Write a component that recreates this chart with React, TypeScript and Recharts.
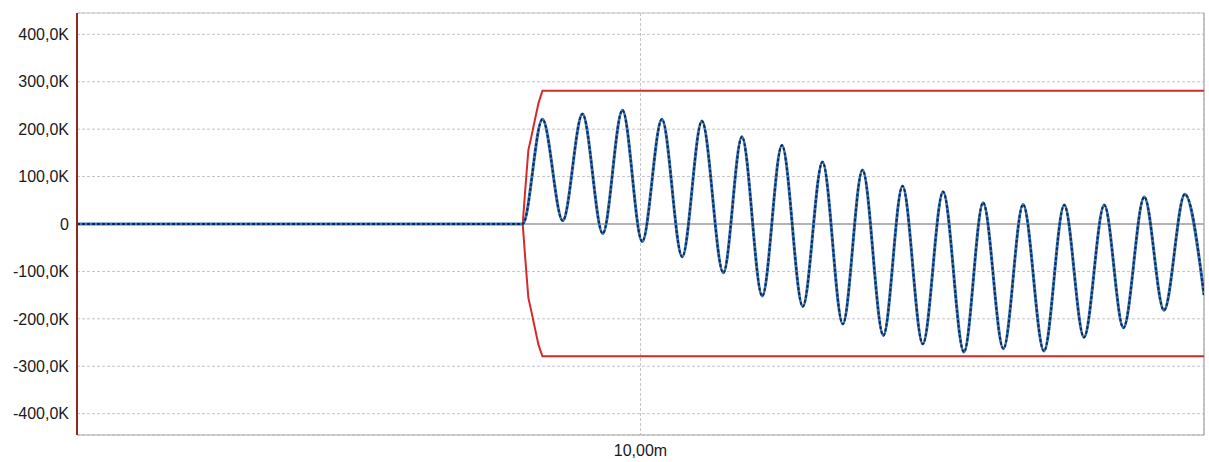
import { CartesianGrid, Line, LineChart, ReferenceLine, XAxis, YAxis } from 'recharts';

// time in ms, values in K (thousands)
const waveTime = [
  0, 7.91, 8.26, 8.62, 8.97, 9.33, 9.68, 10.03, 10.38, 10.74, 11.09, 11.47, 11.8, 12.16,
  12.51, 12.88, 13.23, 13.59, 13.94, 14.31, 14.65, 15.01, 15.37, 15.74, 16.08, 16.44,
  16.79, 17.16, 17.52, 17.87, 18.23, 18.57, 18.94, 19.29, 19.66, 20,
];
const waveValue = [
  0, 0, 221, 7, 232, -20, 240, -37, 221, -69, 217, -103, 184, -152, 166, -174, 131, -211,
  114, -235, 80, -253, 68, -270, 45, -263, 41, -268, 40, -239, 40, -219, 57, -182, 63, -150,
];

const envTime = [0, 7.91, 7.95, 8.01, 8.07, 8.12, 8.19, 8.26, 20];
const envUpper = [0, 0, 65, 156, 188, 216, 255, 281, 281];
const envLower = [0, 0, -65, -156, -188, -216, -255, -279, -279];

const xTicks = [10];
const yTicks = [-400, -300, -200, -100, 0, 100, 200, 300, 400];

const waveData = waveTime.map((t, i) => ({ t, v: waveValue[i] * 1000 }));
const upperData = envTime.map((t, i) => ({ t, v: envUpper[i] * 1000 }));
const lowerData = envTime.map((t, i) => ({ t, v: envLower[i] * 1000 }));

const fmtY = (v: number) => (v === 0 ? '0' : `${(v / 1000).toFixed(1).replace('.', ',')}K`);
const fmtX = (v: number) => `${v.toFixed(2).replace('.', ',')}m`;

const tickStyle = { fontSize: 16, fill: '#1a1a1a', fontFamily: 'Liberation Sans, Arial, sans-serif' };

export default function App() {
  return (
    <div style={{ position: 'fixed', left: 0, top: 0, background: '#fff' }}>
      <LineChart width={1209} height={462} margin={{ top: 13, right: 5, bottom: 0, left: 0 }}>
        <CartesianGrid stroke='#c4c4c4' strokeDasharray='3 2' />
        <XAxis
          dataKey='t'
          type='number'
          domain={[0, 20]}
          ticks={xTicks}
          tickFormatter={fmtX}
          tickLine={false}
          tickMargin={4}
          height={27}
          tick={tickStyle}
          axisLine={{ stroke: '#a8a8a8' }}
          allowDataOverflow
        />
        <YAxis
          type='number'
          domain={[-445000, 445000]}
          ticks={yTicks.map((v) => v * 1000)}
          tickFormatter={fmtY}
          tickLine={false}
          width={77}
          tick={tickStyle}
          axisLine={{ stroke: '#8b2b20', strokeWidth: 2 }}
          allowDataOverflow
        />
        <ReferenceLine y={0} stroke='#a0a0a0' strokeWidth={1.5} />
        <ReferenceLine y={445000} stroke='#c8c8c8' ifOverflow='visible' />
        <ReferenceLine x={20} stroke='#b4b4b4' strokeWidth={1.5} ifOverflow='visible' />
        <Line
          data={upperData}
          dataKey='v'
          type='linear'
          stroke='#d42a2a'
          strokeWidth={2}
          dot={false}
          isAnimationActive={false}
        />
        <Line
          data={lowerData}
          dataKey='v'
          type='linear'
          stroke='#d42a2a'
          strokeWidth={2}
          dot={false}
          isAnimationActive={false}
        />
        <Line
          data={waveData}
          dataKey='v'
          type='monotone'
          stroke='#3a78c2'
          strokeWidth={3}
          dot={false}
          isAnimationActive={false}
        />
        <Line
          data={waveData}
          dataKey='v'
          type='monotone'
          stroke='#142a4c'
          strokeWidth={2}
          strokeDasharray='3 2'
          dot={false}
          isAnimationActive={false}
        />
      </LineChart>
    </div>
  );
}
